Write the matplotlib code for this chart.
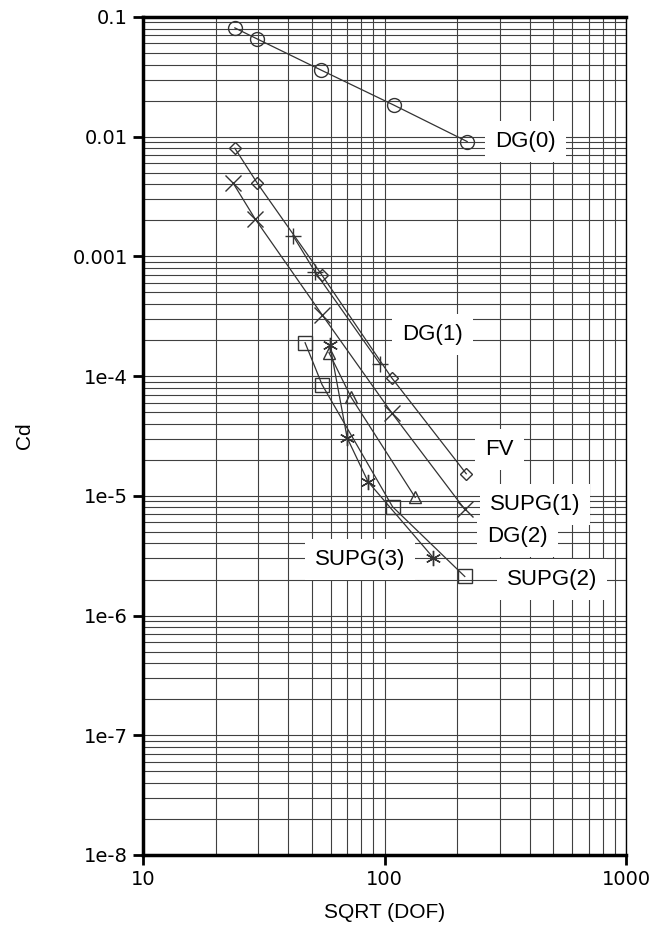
import numpy as np
import matplotlib
matplotlib.use("Agg")
import matplotlib.pyplot as plt
from matplotlib.ticker import LogLocator, FixedLocator, FixedFormatter, NullFormatter

# ---------------------------------------------------------------------------
# Data (SQRT(DOF) vs drag coefficient error)
# ---------------------------------------------------------------------------
dg0_x = [24.0, 29.7, 54.6, 109, 220]
dg0_y = [0.081, 0.0655, 0.036, 0.0184, 0.0091]

fv_x = [24.0, 29.7, 55.0, 107, 218]
fv_y = [0.0080, 0.0041, 7.0e-4, 9.7e-5, 1.53e-5]

dg1_x = [41.8, 51.5, 95.7]
dg1_y = [1.49e-3, 7.45e-4, 1.27e-4]

supg1_x = [23.6, 29.1, 55.1, 107, 215]
supg1_y = [0.0041, 0.00206, 3.26e-4, 4.95e-5, 7.7e-6]

dg2_x = [58.9, 72.6, 134]
dg2_y = [1.57e-4, 6.7e-5, 9.7e-6]

supg3_x = [59.4, 70.0, 85.5, 159]
supg3_y = [1.83e-4, 3.06e-5, 1.31e-5, 3.05e-6]

supg2_x = [46.9, 55.1, 108, 215]
supg2_y = [1.9e-4, 8.5e-5, 8.1e-6, 2.12e-6]

y_ticks = [1e-8, 1e-7, 1e-6, 1e-5, 1e-4, 1e-3, 1e-2, 1e-1]
y_tick_labels = ["1e-8", "1e-7", "1e-6", "1e-5", "1e-4", "0.001", "0.01", "0.1"]
x_ticks = [10, 100, 1000]
x_tick_labels = ["10", "100", "1000"]

# label text, anchor (x, y) in data units
labels = [
    ("DG(0)", 287, 9.06e-3),
    ("DG(1)", 118, 2.22e-4),
    ("FV", 261, 2.43e-5),
    ("SUPG(1)", 273, 8.45e-6),
    ("DG(2)", 266, 4.56e-6),
    ("SUPG(3)", 51.5, 2.93e-6),
    ("SUPG(2)", 321, 2.0e-6),
]

# ---------------------------------------------------------------------------
# Figure
# ---------------------------------------------------------------------------
fig = plt.figure(figsize=(6.69, 9.41), dpi=100)
ax = fig.add_axes([0.2138, 0.0914, 0.7219, 0.8906])

line_kw = dict(color="#333333", lw=0.9, mfc="none", mec="#333333", mew=1.0)
ax.plot(dg0_x, dg0_y, marker="o", ms=10, **line_kw)
ax.plot(fv_x, fv_y, marker="D", ms=6, **line_kw)
ax.plot(dg1_x, dg1_y, marker="+", ms=11, **line_kw)
ax.plot(supg1_x, supg1_y, marker="x", ms=11, **line_kw)
ax.plot(dg2_x, dg2_y, marker="^", ms=9, **line_kw)
ax.plot(supg3_x, supg3_y, marker=(6, 2, 0), ms=11, **line_kw)
ax.plot(supg2_x, supg2_y, marker="s", ms=10, **line_kw)

ax.set_xscale("log")
ax.set_yscale("log")
ax.set_xlim(10, 1000)
ax.set_ylim(1e-8, 0.1)

for axis in (ax.xaxis, ax.yaxis):
    axis.set_minor_locator(LogLocator(base=10, subs=np.arange(2, 10), numticks=100))
    axis.set_minor_formatter(NullFormatter())
ax.xaxis.set_major_locator(FixedLocator(x_ticks))
ax.xaxis.set_major_formatter(FixedFormatter(x_tick_labels))
ax.yaxis.set_major_locator(FixedLocator(y_ticks))
ax.yaxis.set_major_formatter(FixedFormatter(y_tick_labels))

ax.grid(True, which="both", color="#404040", lw=0.8)
ax.set_axisbelow(True)

ax.tick_params(which="major", direction="out", length=7, width=2,
               labelsize=14, pad=4)
ax.tick_params(which="minor", length=0)
for lab in ax.get_xticklabels() + ax.get_yticklabels():
    lab.set_family("DejaVu Sans")

for side in ("left", "bottom", "top"):
    ax.spines[side].set_linewidth(2.5)
ax.spines["right"].set_linewidth(1.0)

ax.set_xlabel("SQRT (DOF)", fontsize=15, family="Liberation Sans", labelpad=10)
ax.set_ylabel("Cd", fontsize=15, family="Liberation Sans")
ax.yaxis.set_label_coords(-0.225, 0.5)

for text, lx, ly in labels:
    ax.text(lx, ly, text, fontsize=16, family="Liberation Sans",
            ha="left", va="center", zorder=5,
            bbox=dict(boxstyle="square,pad=0.45", fc="white", ec="none"))

fig.savefig("out.png", dpi=100, facecolor="white")
